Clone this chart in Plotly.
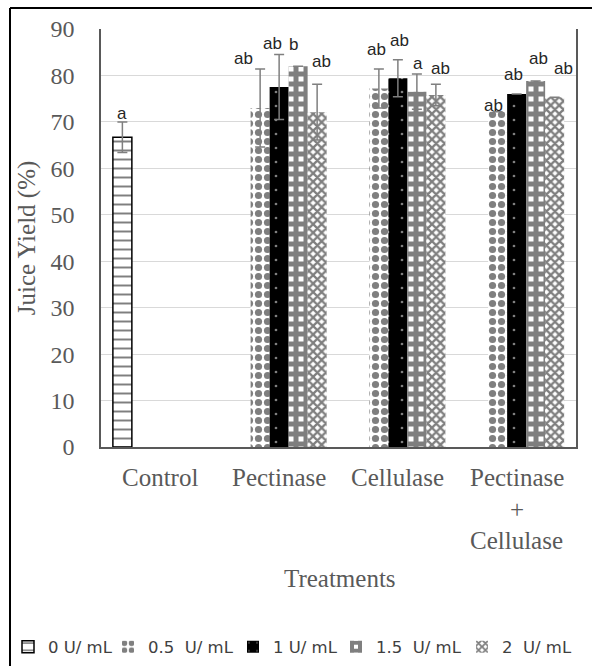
import plotly.graph_objects as go

# ---------------- data ----------------
categories = ["Control", "Pectinase", "Cellulase", "Pectinase + Cellulase"]
category_lines = [["Control"], ["Pectinase"], ["Cellulase"], ["Pectinase", "+", "Cellulase"]]
series_names = ["0 U/ mL", "0.5\u00a0 U/ mL", "1 U/ mL", "1.5\u00a0 U/ mL", "2\u00a0 U/ mL"]

yield_0 = [66.7, None, None, None]
yield_05 = [None, 73.0, 77.2, 72.2]
yield_1 = [None, 77.5, 79.4, 76.0]
yield_15 = [None, 82.0, 76.5, 78.8]
yield_2 = [None, 72.1, 75.8, 75.3]

err_0 = [3.3, 0, 0, 0]
err_05 = [0, 8.4, 4.2, 0]
err_1 = [0, 7.0, 4.0, 0]
err_15 = [0, 0, 3.8, 0]
err_2 = [0, 6.0, 2.3, 0]

# significance letters: (category, letter, label height, horizontal shift px)
letters_cat = ["Control", "Pectinase", "Pectinase", "Pectinase", "Pectinase",
               "Cellulase", "Cellulase", "Cellulase", "Cellulase",
               "Pectinase + Cellulase", "Pectinase + Cellulase", "Pectinase + Cellulase", "Pectinase + Cellulase"]
letters_txt = ["a", "ab", "ab", "b", "ab", "ab", "ab", "a", "ab", "ab", "ab", "ab", "ab"]
letters_y = [71.9, 83.6, 86.8, 86.6, 83.1, 85.5, 87.6, 82.5, 81.4, 73.6, 80.2, 83.6, 81.6]
letters_dx = [-38, -36, -7, 14, 42, -21, 2, 20, 43, -23, -3, 22, 47]

y_ticks = [0, 10, 20, 30, 40, 50, 60, 70, 80, 90]

# ---------------- layout constants ----------------
W, H = 592, 666
ML, MR, MT, MB = 101, 16, 29, 219
PW, PH = W - ML - MR, H - MT - MB


def px_x(px):
    return (px - ML) / PW


def px_y(py):
    return (H - MB - py) / PH


serif = "Liberation Serif, Times New Roman, serif"
sans = "Liberation Sans, Arial, sans-serif"
legend_font = "DejaVu Sans, Verdana, sans-serif"
grey_txt = "#595959"

fig = go.Figure()

styles = [
    dict(color="white", line=dict(color="black", width=1.5),
         pattern=dict(shape="-", fgcolor="black", bgcolor="white", size=9, solidity=0.22)),
    dict(color="white", line=dict(width=0),
         pattern=dict(shape=".", fgcolor="black", bgcolor="white", size=9, solidity=0.5)),
    dict(color="black", line=dict(width=0),
         pattern=dict(shape=".", fgcolor="white", bgcolor="black", size=14, solidity=0.03)),
    dict(color="#333333", line=dict(width=0),
         pattern=dict(shape="+", fgcolor="black", bgcolor="white", size=10, solidity=0.75)),
    dict(color="#333333", line=dict(width=0),
         pattern=dict(shape="x", fgcolor="black", bgcolor="white", size=6, solidity=0.62)),
]
values = [yield_0, yield_05, yield_1, yield_15, yield_2]
errors = [err_0, err_05, err_1, err_15, err_2]
legend_ids = ["legend", "legend2", "legend3", "legend4", "legend5"]
legend_px = [8, 108, 233, 336, 462]  # left edge of each legend entry (pixels)

for name, vals, errs, st, lg in zip(series_names, values, errors, styles, legend_ids):
    fig.add_trace(go.Bar(
        x=categories, y=vals, name=name, marker=st, legend=lg,
        error_y=dict(type="data", array=errs, visible=True, color="#7f7f7f",
                     thickness=1.5, width=5),
    ))

annotations = []
for c, t, yv, dx in zip(letters_cat, letters_txt, letters_y, letters_dx):
    annotations.append(dict(x=c, y=yv, xref="x", yref="y", text=t, showarrow=False,
                            xshift=dx, font=dict(family=sans, size=17, color="#262626"),
                            xanchor="center", yanchor="middle"))

# category labels (multi-line with wide spacing)
line_y0 = 478
line_step = 31
for c, lines in zip(categories, category_lines):
    for i, ln in enumerate(lines):
        annotations.append(dict(x=c, y=px_y(line_y0 + i * line_step), xref="x", yref="paper",
                                text=ln, showarrow=False, xanchor="center", yanchor="middle",
                                font=dict(family=serif, size=25, color=grey_txt)))

annotations.append(dict(x=px_x(340), y=px_y(578), xref="paper", yref="paper", text="Treatments",
                        showarrow=False, xanchor="center", yanchor="middle",
                        font=dict(family=serif, size=25, color=grey_txt)))

shapes = [
    dict(type="line", xref="paper", yref="paper", x0=px_x(10), x1=px_x(10),
         y0=px_y(H + 2), y1=px_y(8), line=dict(color="black", width=2)),
    dict(type="line", xref="paper", yref="paper", x0=px_x(10), x1=px_x(W + 2),
         y0=px_y(8), y1=px_y(8), line=dict(color="black", width=2)),
]

legend_layouts = {}
for lg, lx in zip(legend_ids, legend_px):
    legend_layouts[lg] = dict(orientation="h", xref="container", yref="container",
                              x=lx / W, xanchor="left", y=1 - 647 / H, yanchor="middle",
                              font=dict(family=legend_font, size=16.5, color="#404040"),
                              itemwidth=30, bgcolor="rgba(0,0,0,0)", borderwidth=0)

fig.update_layout(
    width=W, height=H,
    margin=dict(l=ML, r=MR, t=MT, b=MB, pad=0),
    paper_bgcolor="white", plot_bgcolor="white",
    barmode="group", bargap=0.2, bargroupgap=0,
    showlegend=True,
    xaxis=dict(showticklabels=False, ticks="", showline=True, linecolor="#595959",
               linewidth=1.5, showgrid=False, zeroline=False),
    yaxis=dict(range=[0, 90], tickvals=y_ticks, showgrid=True, gridcolor="#d9d9d9",
               gridwidth=1, showline=True, linecolor="#595959", linewidth=1.5, mirror=True,
               ticks="", zeroline=False, ticklabelstandoff=20,
               tickfont=dict(family=serif, size=24, color=grey_txt),
               title=dict(text="Juice Yield (%)", standoff=8,
                          font=dict(family=serif, size=25, color=grey_txt))),
    annotations=annotations,
    shapes=shapes,
    **legend_layouts,
)

fig.write_html("out.html")
